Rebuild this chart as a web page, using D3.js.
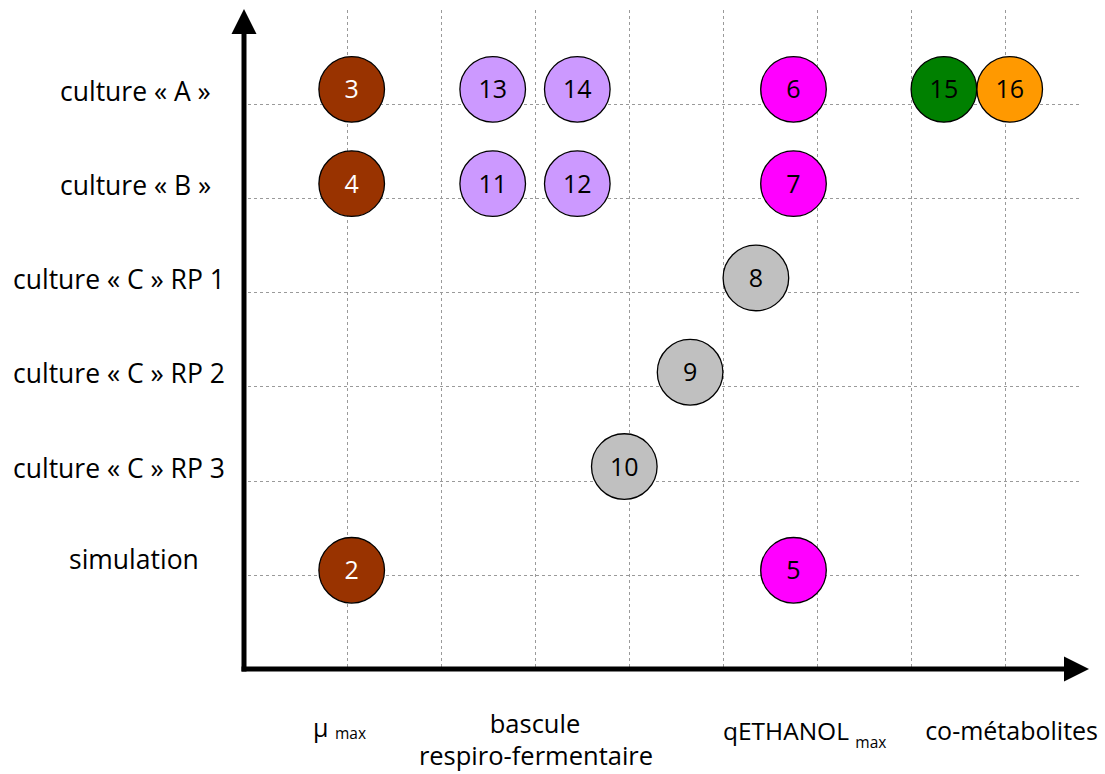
<!DOCTYPE html>
<html>
<head>
<meta charset="utf-8">
<script src="https://cdn.jsdelivr.net/npm/d3@7"></script>
<style>
  html, body { margin: 0; padding: 0; background: #fff; }
  svg { display: block; font-family: "Open Sans", "DejaVu Sans", sans-serif; }
</style>
</head>
<body>
<svg id="chart" width="1105" height="774"></svg>
<script>
// ---- data ----
const rowLabels = ["culture « A »", "culture « B »", "culture « C » RP 1", "culture « C » RP 2", "culture « C » RP 3", "simulation"];
const columnTicks = [1, 2, 3, 4, 5, 6, 7, 8];
const rowTicks = [0, 1, 2, 3, 4, 5];
const pointIds = [3, 13, 14, 6, 15, 16, 4, 11, 12, 7, 8, 9, 10, 2, 5];
const pointX = [1.05, 2.55, 3.45, 5.75, 7.35, 8.05, 1.05, 2.55, 3.45, 5.75, 5.35, 4.65, 3.95, 1.05, 5.75];
const pointY = [-0.15, -0.15, -0.15, -0.15, -0.15, -0.15, 0.85, 0.85, 0.85, 0.85, 1.85, 2.85, 3.85, 4.95, 4.95];
const pointGroup = ["mu", "bascule", "bascule", "qeth", "co1", "co2", "mu", "bascule", "bascule", "qeth", "rp", "rp", "rp", "mu", "qeth"];
const groupColors = { mu: "#993300", bascule: "#CC99FF", qeth: "#FF00FF", rp: "#C0C0C0", co1: "#008000", co2: "#FF9900" };
const groupTextColors = { mu: "#ffffff", bascule: "#000000", qeth: "#000000", rp: "#000000", co1: "#000000", co2: "#000000" };
const axisCategories = ["µ", "bascule", "qETHANOL", "co-métabolites"];

// ---- layout ----
const svg = d3.select("#chart");
const x = d3.scaleLinear().domain([1, 8]).range([347, 1005]);
const y = d3.scaleLinear().domain([0, 5]).range([103.5, 575]);
const axisX = 244, axisY = 669;
const R = 32.8;

// grid
const grid = svg.append("g").attr("stroke", "#9a9a9a").attr("stroke-width", 1).attr("stroke-dasharray", "3,3");
grid.selectAll("line.v").data(columnTicks).join("line").attr("class", "v")
  .attr("x1", d => Math.round(x(d)) + 0.5).attr("x2", d => Math.round(x(d)) + 0.5)
  .attr("y1", 10).attr("y2", axisY);
grid.selectAll("line.h").data(rowTicks).join("line").attr("class", "h")
  .attr("y1", d => Math.round(y(d)) + 0.5).attr("y2", d => Math.round(y(d)) + 0.5)
  .attr("x1", 248).attr("x2", 1082);

// axes
const ax = svg.append("g");
ax.append("line").attr("x1", axisX).attr("x2", axisX).attr("y1", 30).attr("y2", axisY + 2.5)
  .attr("stroke", "#000").attr("stroke-width", 5);
ax.append("line").attr("x1", axisX - 2.5).attr("x2", 1068).attr("y1", axisY).attr("y2", axisY)
  .attr("stroke", "#000").attr("stroke-width", 5);
ax.append("path").attr("d", `M${axisX},9 L${axisX - 12.5},34 L${axisX + 12.5},34 Z`).attr("fill", "#000");
ax.append("path").attr("d", `M1089,${axisY} L1064,${axisY - 12.5} L1064,${axisY + 12.5} Z`).attr("fill", "#000");

// row labels
const rowLabelX = [60, 60, 13, 13, 13, 69];
svg.append("g").selectAll("text").data(rowLabels).join("text")
  .attr("x", (d, i) => rowLabelX[i])
  .attr("y", (d, i) => y(rowTicks[i]) - 3 - (i === 5 ? 3 : 0))
  .attr("font-size", 26.5).attr("fill", "#000")
  .text(d => d);

// points
const pts = svg.append("g").selectAll("g").data(pointIds).join("g")
  .attr("transform", (d, i) => `translate(${x(pointX[i])},${y(pointY[i])})`);
pts.append("circle").attr("r", R)
  .attr("fill", (d, i) => groupColors[pointGroup[i]])
  .attr("stroke", "#000").attr("stroke-width", 1.3);
pts.append("text").attr("text-anchor", "middle").attr("y", 9)
  .attr("font-size", 25)
  .attr("fill", (d, i) => groupTextColors[pointGroup[i]])
  .text(d => d);

// bottom category labels
const bl = svg.append("g").attr("fill", "#000");
const t1 = bl.append("text").attr("x", 313).attr("y", 737).attr("font-size", 25);
t1.append("tspan").text(axisCategories[0] + " ");
t1.append("tspan").attr("font-size", 15.5).attr("dy", 2).text("max");
bl.append("text").attr("x", 535).attr("y", 733).attr("text-anchor", "middle").attr("font-size", 25.5).text(axisCategories[1]);
bl.append("text").attr("x", 536).attr("y", 765).attr("text-anchor", "middle").attr("font-size", 25.5).text("respiro-fermentaire");
const t3 = bl.append("text").attr("x", 723).attr("y", 740).attr("font-size", 24.5);
t3.append("tspan").text(axisCategories[2] + " ");
t3.append("tspan").attr("font-size", 15.5).attr("dy", 8).text("max");
bl.append("text").attr("x", 1098).attr("y", 740).attr("text-anchor", "end").attr("font-size", 25).text(axisCategories[3]);
</script>
</body>
</html>
